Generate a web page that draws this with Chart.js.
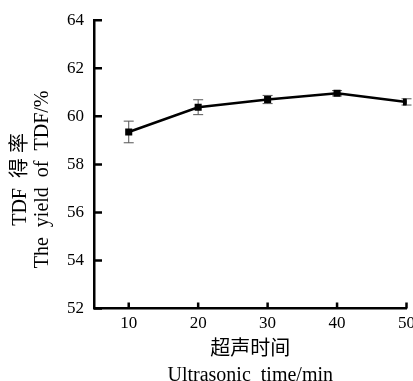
<!DOCTYPE html>
<html><head><meta charset="utf-8">
<script src="https://cdn.jsdelivr.net/npm/chart.js@4/dist/chart.umd.min.js"></script>
<style>html,body{margin:0;padding:0;overflow:hidden;background:#fff}#wrap{width:420px;height:381px}</style>
</head><body><div id="wrap"><canvas id="c" width="420" height="381"></canvas></div>
<script>
const times = [10, 20, 30, 40, 50];
const yieldValues = [59.35, 60.38, 60.70, 60.96, 60.60];
const yieldErrors = [0.45, 0.31, 0.17, 0.11, 0.13];
const xTicks = [10, 20, 30, 40, 50];
const yTicks = [52, 54, 56, 58, 60, 62, 64];
const xTitle = ['超声时间', 'Ultrasonic  time/min'];
const yTitle = ['TDF  得 率      ', 'The  yield  of  TDF/%      '];

const SERIF = "'Liberation Serif', 'Noto Sans CJK SC', serif";

const errorBars = {
  id: 'errorBars',
  beforeDatasetsDraw(chart) {
    const ctx = chart.ctx, xs = chart.scales.x, ys = chart.scales.y;
    ctx.save();
    ctx.strokeStyle = '#555';
    ctx.lineWidth = 1;
    times.forEach((t, i) => {
      const px = xs.getPixelForValue(t);
      const top = ys.getPixelForValue(yieldValues[i] + yieldErrors[i]);
      const bot = ys.getPixelForValue(yieldValues[i] - yieldErrors[i]);
      ctx.beginPath();
      ctx.moveTo(px, top); ctx.lineTo(px, bot);
      ctx.moveTo(px - 5, top); ctx.lineTo(px + 5, top);
      ctx.moveTo(px - 5, bot); ctx.lineTo(px + 5, bot);
      ctx.stroke();
    });
    ctx.restore();
  }
};

const inwardTicks = {
  id: 'inwardTicks',
  afterDraw(chart) {
    const ctx = chart.ctx, xs = chart.scales.x, ys = chart.scales.y;
    const area = chart.chartArea;
    ctx.save();
    ctx.strokeStyle = '#000';
    ctx.lineWidth = 2.5;
    ctx.beginPath();
    xs.ticks.forEach(t => {
      const px = xs.getPixelForValue(t.value);
      ctx.moveTo(px, area.bottom); ctx.lineTo(px, area.bottom - 6);
    });
    ys.ticks.forEach(t => {
      const py = ys.getPixelForValue(t.value);
      ctx.moveTo(area.left, py); ctx.lineTo(area.left + 8, py);
    });
    ctx.stroke();
    ctx.restore();
  }
};

new Chart(document.getElementById('c'), {
  type: 'line',
  data: {
    datasets: [{
      data: times.map((t, i) => ({x: t, y: yieldValues[i]})),
      borderColor: '#000',
      backgroundColor: '#000',
      borderWidth: 2.5,
      pointStyle: 'rect',
      pointRadius: 5,
      pointBorderWidth: 0,
      tension: 0,
      fill: false
    }]
  },
  options: {
    responsive: false,
    animation: false,
    devicePixelRatio: 1,
    layout: {padding: {top: 20, left: 0, right: 0, bottom: 0}},
    plugins: {legend: {display: false}, tooltip: {enabled: false}},
    scales: {
      x: {
        type: 'linear',
        min: 5, max: 50,
        afterBuildTicks: s => { s.ticks = xTicks.map(v => ({value: v})); },
        grid: {display: false, drawTicks: false},
        border: {display: true, color: '#000', width: 2.5},
        ticks: {color: '#000', padding: 5, font: {family: SERIF, size: 17}},
        title: {display: true, text: xTitle, color: '#000',
          font: {family: SERIF, size: 20, lineHeight: 1.3},
          padding: {top: -2, bottom: -8}}
      },
      y: {
        type: 'linear',
        min: 52, max: 64,
        afterBuildTicks: s => { s.ticks = yTicks.map(v => ({value: v})); },
        grid: {display: false, drawTicks: false},
        border: {display: true, color: '#000', width: 2.5},
        ticks: {color: '#000', padding: 10, font: {family: SERIF, size: 17}},
        title: {display: true, text: yTitle, color: '#000',
          font: {family: SERIF, size: 20, lineHeight: 1.1},
          padding: {top: 10, bottom: 3}}
      }
    }
  },
  plugins: [errorBars, inwardTicks]
});
</script></body></html>
